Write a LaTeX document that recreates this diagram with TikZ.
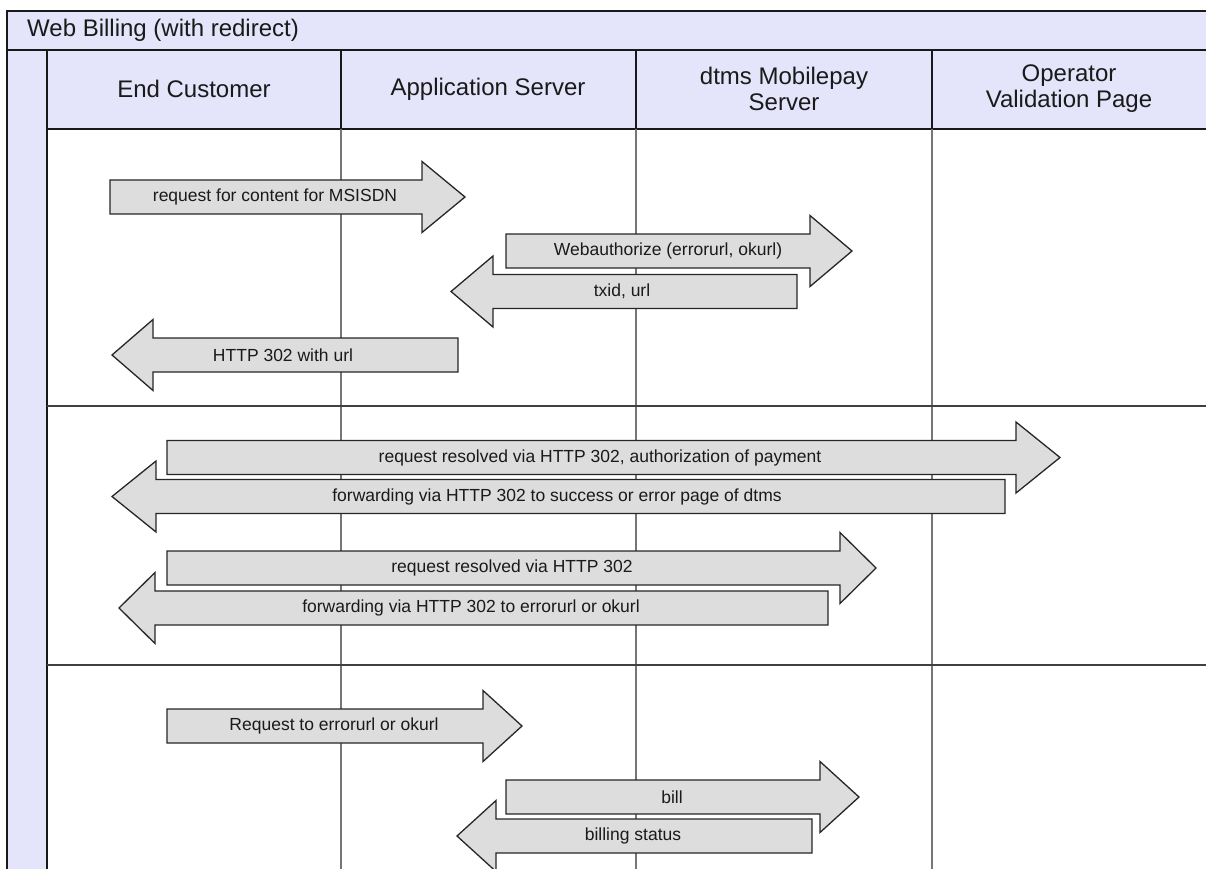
\documentclass[tikz,border=0pt]{standalone}
\usepackage{fontspec}
\setmainfont{Liberation Sans}
\usepackage{xcolor}
\usepackage{tikz}
\usetikzlibrary{positioning}
\definecolor{laneLilac}{HTML}{E4E4FA}
\definecolor{laneLine}{HTML}{767676}
\definecolor{msgGray}{HTML}{DDDDDD}
\definecolor{msgEdge}{HTML}{262626}
\definecolor{textDark}{HTML}{1A1A1A}
\tikzset{
  laneBox/.style={fill=laneLilac, draw=black!90, line width=1.4pt},
  headSep/.style={draw=black!90, line width=1.4pt},
  headText/.style={font=\fontsize{24}{26}\selectfont, align=center, text=textDark, inner sep=0pt},
  lifeLine/.style={draw=laneLine, line width=1.1pt},
  sectionLine/.style={draw=black!75, line width=1.4pt},
  msgShape/.style={fill=msgGray, draw=msgEdge, line width=1.3pt},
  msgLabel/.style={font=\fontsize{17.5}{20}\selectfont, text=textDark, inner sep=0pt}
}
% block arrow: name, tail x, head base x, tip x, mid y, label x, label
\newcommand{\msgArrow}[7]{%
  \filldraw[msgShape] (#2,#5-17) -- (#3,#5-17) -- (#3,#5-35.5) -- (#4,#5)
    -- (#3,#5+35.5) -- (#3,#5+17) -- (#2,#5+17) -- cycle;
  \node[msgLabel] (#1) at (#6,#5) {#7};}

\begin{document}
\begin{tikzpicture}[x=1pt, y=-1pt]
  \useasboundingbox (0,0) rectangle (1206,869);
  \clip (0,0) rectangle (1206,869);
  % pool and lanes
  \filldraw[laneBox] (7,11) rectangle (1230,50);
  \filldraw[laneBox] (7,50) rectangle (47,900);
  \filldraw[laneBox] (47,50) rectangle (1230,129);
  \foreach \x in {341,636,932} {
    \draw[lifeLine] (\x,129) -- (\x,900);
    \draw[headSep] (\x,50) -- (\x,129);
  }
  \foreach \y in {406,665}
    \draw[sectionLine] (47,\y) -- (1230,\y);

  \node[headText, anchor=west] (title) at (27,30) {Web Billing (with redirect)};
  \node[headText] (customer) at (194,89) {End Customer};
  \node[headText] (appserver) at (488,89) {Application Server};
  \node[headText] (mobilepay) at (784,89) {dtms Mobilepay\\Server};
  \node[headText] (operator) at (1069,89) {Operator\\Validation Page};

  % first section
  \msgArrow{contentReq}{110}{422}{465}{197}{275}{request for content for MSISDN}
  \msgArrow{webAuth}{506}{810}{852}{251}{668}{Webauthorize (errorurl, okurl)}
  \msgArrow{txidUrl}{797}{493}{451}{291.5}{622}{txid, url}
  \msgArrow{httpUrl}{458}{153}{112}{355}{283}{HTTP 302 with url}
  % second section
  \msgArrow{authPay}{167}{1016}{1060}{457.5}{600}{request resolved via HTTP 302, authorization of payment}
  \msgArrow{fwdDtms}{1005}{156}{112}{496.5}{557}{forwarding via HTTP 302 to success or error page of dtms}
  \msgArrow{resolved}{167}{840}{876}{568}{512}{request resolved via HTTP 302}
  \msgArrow{fwdOk}{828}{155}{119}{608}{471}{forwarding via HTTP 302 to errorurl or okurl}
  % third section
  \msgArrow{okReq}{167}{483}{522}{726}{334}{Request to errorurl or okurl}
  \msgArrow{bill}{506}{820}{859}{797}{672}{bill}
  \msgArrow{billStatus}{812}{496}{457}{836}{633}{billing status}
\end{tikzpicture}
\end{document}
